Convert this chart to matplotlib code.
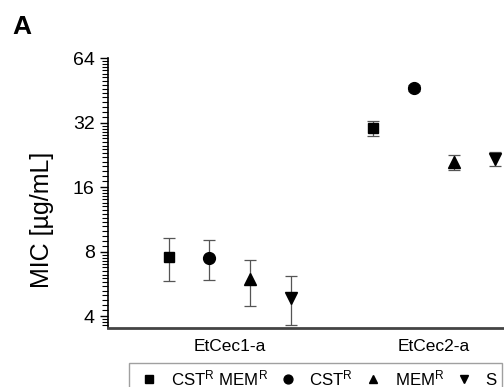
import matplotlib.pyplot as plt
import numpy as np

plt.rcParams['font.family'] = ['Liberation Sans', 'DejaVu Sans']
plt.rcParams['mathtext.default'] = 'regular'

isolates = ['EtCec1-a', 'EtCec2-a']
series = ['CST$^{R}$ MEM$^{R}$', 'CST$^{R}$', 'MEM$^{R}$', 'S']
markers = ['s', 'o', '^', 'v']

# MIC values (ug/mL) per series, one value per isolate
mic = [[7.55, 30.2], [7.5, 46.4], [5.95, 20.9], [4.85, 21.6]]
mic_low = [[5.85, 27.7], [5.9, 45.0], [4.45, 19.2], [3.63, 20.1]]
mic_high = [[9.25, 32.5], [9.05, 47.8], [7.3, 22.6], [6.15, 23.3]]
yticks = [4, 8, 16, 32, 64]

fig = plt.figure(figsize=(5.04, 3.87), dpi=100)
ax = fig.add_axes([0.214, 0.1525, 0.786, 0.6975])

x = np.arange(1, len(isolates) + 1)
offsets = [-0.3, -0.1, 0.1, 0.3]
handles = []
for i in range(len(series)):
  v = np.array(mic[i])
  err = [v - np.array(mic_low[i]), np.array(mic_high[i]) - v]
  ax.errorbar(x + offsets[i], v, yerr=err, fmt='none', ecolor='#555555',
              elinewidth=0.9, capsize=4, capthick=0.9, zorder=2)
  ms = 7 if markers[i] == 's' else 8.5
  h, = ax.plot(x + offsets[i], v, linestyle='none', marker=markers[i],
               color='black', markersize=ms, zorder=3, label=series[i])
  handles.append(h)

ax.set_yscale('log', base=2)
ax.set_ylim(3.52, 64)
ax.set_xlim(0.402, 2.343)
ax.set_yticks(yticks)
ax.set_yticklabels([str(t) for t in yticks])

# dense linear minor ticks inside each octave
minor = []
for k in range(1, 6):
  base = 2 ** k
  minor += [base + j * base / 16 for j in range(1, 16)]
minor = [m for m in minor if 3.52 <= m <= 64]
ax.set_yticks(minor, minor=True)
ax.yaxis.set_minor_formatter(plt.NullFormatter())

ax.set_xticks(x)
ax.set_xticklabels(isolates, fontsize=12.5)
ax.tick_params(axis='x', length=0, pad=8)
ax.tick_params(axis='y', which='major', length=6, width=1, labelsize=14, direction='out')
ax.tick_params(axis='y', which='minor', length=4, width=0.8, direction='out')

for s in ['top', 'right']:
  ax.spines[s].set_visible(False)
ax.spines['left'].set_linewidth(1.2)
ax.spines['bottom'].set_linewidth(2)
ax.spines['bottom'].set_color('#444444')

ax.set_ylabel('MIC [\u00b5g/mL]', fontsize=18)
ax.yaxis.set_label_coords(-0.135, 0.40)
fig.text(0.024, 0.912, 'A', fontsize=19, fontweight='bold')

leg = fig.legend(handles=handles, loc='upper right', bbox_to_anchor=(0.996, 0.062),
                 borderaxespad=0, ncol=4, fontsize=12.2, frameon=True, fancybox=False,
                 edgecolor='#888888', handlelength=1.76, handletextpad=0.4,
                 columnspacing=0.28, borderpad=0.3, markerscale=0.75)
leg.get_frame().set_linewidth(1.0)

fig.savefig('out.png', dpi=100)
